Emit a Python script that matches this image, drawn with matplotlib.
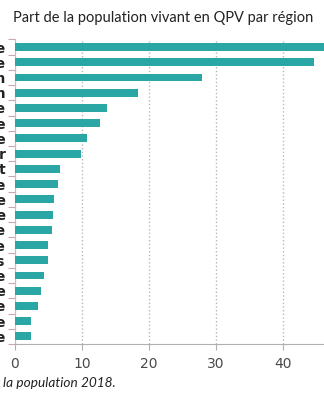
import numpy as np
import matplotlib
matplotlib.use('Agg')
import matplotlib.pyplot as plt

# --- Data (top to bottom)
regions = ['Mayotte', 'Guyane', 'La Réunion', 'Saint-Martin', 'Martinique',
           'Guadeloupe', 'Île-de-France', "Provence-Alpes-Côte d'Azur", 'Grand Est',
           'Hauts-de-France', 'France entière', 'Centre-Val de Loire', 'Occitanie',
           'Normandie', 'Auvergne-Rhône-Alpes', 'France métropolitaine',
           'Pays de la Loire', 'Nouvelle-Aquitaine', 'Corse', 'Bretagne']
part_qpv = [58.0, 44.6, 27.9, 18.4, 13.7, 12.7, 10.7, 9.9, 6.7, 6.4,
            5.8, 5.7, 5.5, 4.9, 4.9, 4.4, 3.9, 3.4, 2.4, 2.4]
x_ticks = [0, 10, 20, 30, 40]

title = 'Part de la population vivant en QPV par région'
footer = 'la population 2018.'

# --- Figure
fig = plt.figure(figsize=(3.24, 4.0), dpi=100)
ax = fig.add_axes([0.0454, 0.14, 1.0 - 0.0454, 0.7615])

y = np.arange(len(regions))
ax.barh(y, part_qpv, height=0.52, color='#2aa7a4', zorder=3)
ax.set_ylim(len(regions) - 0.5, -0.5)
ax.set_xlim(0, 46.06)

# grid
ax.set_xticks(x_ticks)
ax.xaxis.grid(True, linestyle=':', color='#b8b8b8', linewidth=1.0, zorder=0)
ax.set_axisbelow(True)

# spines
for s in ['top', 'right']:
    ax.spines[s].set_visible(False)
ax.spines['left'].set_color('#c0c0c0')
ax.spines['bottom'].set_color('#b0b0b0')

# ticks
ax.tick_params(axis='x', length=4, color='#b0b0b0', labelsize=10,
               labelcolor='#4a4a4a', pad=5)
ax.set_yticks(y)
ax.set_yticklabels(regions, fontsize=10, fontweight='bold', color='#222222')
ax.tick_params(axis='y', length=0, pad=6.5)
ax.set_yticks(np.arange(len(regions) + 1) - 0.5, minor=True)
ax.tick_params(axis='y', which='minor', length=5, color='#cfa6a6', width=0.8)

fig.text(0.505, 0.955, title, ha='center', va='center', fontsize=10.5,
         family='Lato', color='#222222')
fig.text(0.01, 0.042, footer, ha='left', va='center', fontsize=9.8,
         family='Lato', style='italic', color='#222222')

plt.savefig('out.png', dpi=100)
